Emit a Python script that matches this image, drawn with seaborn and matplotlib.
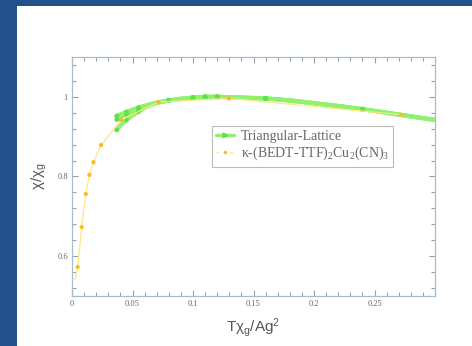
import matplotlib
matplotlib.use("Agg")
import matplotlib.pyplot as plt
from matplotlib.patches import Rectangle
from matplotlib.lines import Line2D
from matplotlib.ticker import MultipleLocator, FixedLocator
import pandas as pd
import seaborn as sns

# Triangular-lattice high-temperature curves (three approximants that merge above T~0.07)
tri_x_common = [0.07, 0.08, 0.09, 0.10, 0.11, 0.12, 0.13, 0.14, 0.15, 0.16,
                0.18, 0.20, 0.22, 0.24, 0.26, 0.28, 0.30]
tri_y_common = [0.985, 0.991, 0.995, 0.998, 1.000, 1.000, 0.999, 0.998, 0.997, 0.996,
                0.991, 0.984, 0.977, 0.969, 0.960, 0.951, 0.942]
tri_x_low = [0.037, 0.040, 0.045, 0.050, 0.055, 0.060, 0.065]
tri_y_upper = [0.952, 0.956, 0.962, 0.968, 0.973, 0.978, 0.982]
tri_y_middle = [0.943, 0.948, 0.956, 0.963, 0.969, 0.975, 0.980]
tri_y_lower = [0.917, 0.928, 0.942, 0.953, 0.963, 0.972, 0.979]

# kappa-(BEDT-TTF)2Cu2(CN)3 measurement
exp_x = [0.0047, 0.0080, 0.0114, 0.0144, 0.0177, 0.0240, 0.0406, 0.0716, 0.1296, 0.2720]
exp_y = [0.573, 0.673, 0.756, 0.804, 0.836, 0.879, 0.942, 0.987, 0.996, 0.955]

x_ticks = [0, 0.05, 0.1, 0.15, 0.2, 0.25]
x_tick_labels = ["0", "0.05", "0.1", "0.15", "0.2", "0.25"]
y_ticks = [0.6, 0.8, 1.0]
y_tick_labels = ["0.6", "0.8", "1"]

sns.set_theme(style="white")
plt.rcParams["font.family"] = ["Liberation Serif", "DejaVu Serif"]
plt.rcParams["mathtext.default"] = "regular"

fig = plt.figure(figsize=(4.72, 3.46), dpi=100)
fig.patch.set_facecolor("white")
frame_blue = "#22508b"
fig.patches.append(Rectangle((0, 0), 17 / 472, 1, transform=fig.transFigure,
                             facecolor=frame_blue, edgecolor="none", zorder=0))
fig.patches.append(Rectangle((0, 1 - 6 / 346), 1, 6 / 346, transform=fig.transFigure,
                             facecolor=frame_blue, edgecolor="none", zorder=0))

ax = fig.add_axes([72 / 472, 1 - 296 / 346, 363 / 472, 239 / 346])
ax.set_facecolor("white")

tri_frames = []
for name, ylow in (("upper", tri_y_upper), ("middle", tri_y_middle), ("lower", tri_y_lower)):
    tri_frames.append(pd.DataFrame({"T": tri_x_low + tri_x_common,
                                    "chi": ylow + tri_y_common,
                                    "curve": name}))
tri = pd.concat(tri_frames, ignore_index=True)
exp = pd.DataFrame({"T": exp_x, "chi": exp_y})

green_line = "#90f070"
green_mark = "#62e04a"
yellow_line = "#ffe780"
orange_mark = "#ffb820"

sns.lineplot(data=tri, x="T", y="chi", units="curve", estimator=None, sort=False,
             color=green_line, lw=3.0, ax=ax, zorder=2)
sns.scatterplot(data=tri[tri["T"].isin([0.037, 0.045, 0.055, 0.08, 0.10, 0.11, 0.12, 0.16, 0.24])],
                x="T", y="chi", color=green_mark, s=12, edgecolor="none", ax=ax, zorder=3)

sns.lineplot(data=exp, x="T", y="chi", color=yellow_line, lw=0.9, ax=ax, zorder=4)
sns.scatterplot(data=exp, x="T", y="chi", color=orange_mark, s=9, edgecolor="none",
                ax=ax, zorder=5)
# faint extension of the measured curve to the lowest temperature
ax.plot([0.0025, exp_x[0]], [0.540, exp_y[0]], color=yellow_line, lw=0.9, zorder=4)

ax.set_xlim(0, 0.3)
ax.set_ylim(0.5, 1.1)
ax.xaxis.set_major_locator(FixedLocator(x_ticks))
ax.set_xticklabels(x_tick_labels)
ax.xaxis.set_minor_locator(MultipleLocator(0.01))
ax.yaxis.set_major_locator(FixedLocator(y_ticks))
ax.set_yticklabels(y_tick_labels)
ax.yaxis.set_minor_locator(MultipleLocator(0.04))
ax.tick_params(which="both", direction="in", top=True, right=True, bottom=True, left=True,
               color="#8fa3b8", width=0.8, labelsize=6, labelcolor="#666666", pad=3)
ax.tick_params(which="major", length=4)
ax.tick_params(which="minor", length=3)
for sp in ax.spines.values():
    sp.set_color("#a9bccc")
    sp.set_linewidth(0.9)

ax.set_xlabel("T$\\chi_g$/Ag$^2$", fontsize=11, family=["Liberation Sans"], color="#555555",
              labelpad=6)
ax.set_ylabel("$\\chi/\\chi_g$", fontsize=11, family=["Liberation Sans"], color="#555555",
              labelpad=6)

handles = [Line2D([], [], color=green_line, lw=2.5, marker=">", ms=3.5, mfc=green_mark,
                  mec=green_mark),
           Line2D([], [], color=yellow_line, lw=1.0, ls=(0, (2, 3)), marker="o", ms=2.5,
                  mfc=orange_mark, mec="none")]
leg = ax.legend(handles, ["Triangular-Lattice", "κ-(BEDT-TTF)$_2$Cu$_2$(CN)$_3$"],
                loc="upper left", bbox_to_anchor=(0.385, 0.712), fontsize=10,
                frameon=True, fancybox=False, edgecolor="#aaaaaa", handlelength=1.3,
                borderpad=0.3, labelspacing=0.15, handletextpad=0.5, borderaxespad=0)
leg.get_frame().set_linewidth(0.8)
for t in leg.get_texts():
    t.set_color("#666666")

fig.savefig("out.png", dpi=100)
